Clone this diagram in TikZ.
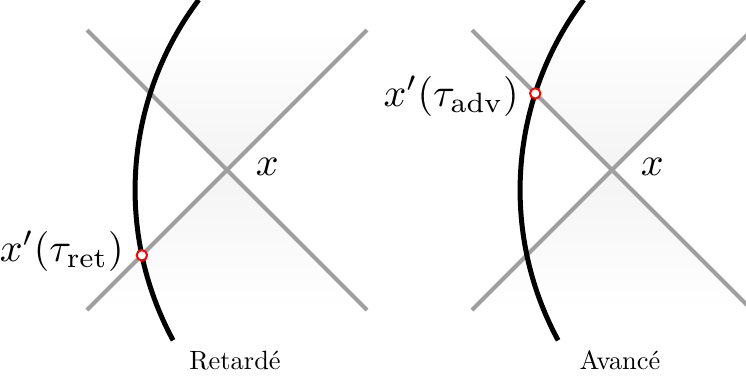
\documentclass[tikz,border=0pt]{standalone}
\usepackage{fontspec}
\newfontfamily\capfont{lmroman10-regular.otf}
\usetikzlibrary{positioning,intersections}

\begin{document}
\begin{tikzpicture}[
        x=0.25pt, y=0.25pt,
        line join=round,
        cone/.style={gray!75, line width=1pt},
        worldline/.style={black, line width=1.25pt},
        event/.style={circle, draw=red, fill=white, line width=0.5pt,
            inner sep=0pt, minimum size=2.6pt},
        evlabel/.style={inner sep=1pt},
        caption/.style={anchor=base, font=\capfont\fontsize{6.6}{8}\selectfont}
    ]

        \useasboundingbox (0,0) rectangle (746,380);

        % panneau gauche : retardé
        \coordinate (Xr) at (227,210);
        \coordinate (ULr) at (87,350);
        \coordinate (URr) at (367,350);
        \coordinate (LLr) at (87,70);
        \coordinate (LRr) at (367,70);

        % cônes de lumière
        \shade[top color=white, bottom color=gray!9]
            (Xr) -- (ULr) -- (URr) -- cycle;
        \shade[top color=gray!9, bottom color=white]
            (Xr) -- (LLr) -- (LRr) -- cycle;

        \draw[cone, name path=pastr] (LLr) -- (URr);
        \draw[cone] (ULr) -- (LRr);

        % ligne d'univers
        \draw[worldline, name path=wlr]
            (173.1,39.7) arc[start angle=208.4, end angle=143, radius=316];

        \path[name intersections={of=wlr and pastr, by=ir}];
        \node[event] (ret) at (ir) {};

        \node[evlabel, left=1.8pt of ret, yshift=1pt] (retlabel)
            {$x'(\tau_{\mathrm{ret}})$};
        \node[inner sep=0pt, right=7pt of Xr, yshift=0.75pt] (xr) {$x$};
        \node[caption] (retcap) at (235,11) {Retardé};

        % panneau droit : avancé
        \coordinate (Xa) at (612,210);
        \coordinate (ULa) at (472,350);
        \coordinate (URa) at (752,350);
        \coordinate (LLa) at (472,70);
        \coordinate (LRa) at (752,70);

        \shade[top color=white, bottom color=gray!9]
            (Xa) -- (ULa) -- (URa) -- cycle;
        \shade[top color=gray!9, bottom color=white]
            (Xa) -- (LLa) -- (LRa) -- cycle;

        \draw[cone] (LLa) -- (URa);
        \draw[cone, name path=futa] (ULa) -- (LRa);

        \draw[worldline, name path=wla]
            (558.1,39.7) arc[start angle=208.4, end angle=143, radius=316];

        \path[name intersections={of=wla and futa, by=ia}];
        \node[event] (adv) at (ia) {};

        \node[evlabel, left=1.4pt of adv, yshift=-0.75pt] (advlabel)
            {$x'(\tau_{\mathrm{adv}})$};
        \node[inner sep=0pt, right=7pt of Xa, yshift=0.75pt] (xa) {$x$};
        \node[caption] (advcap) at (620,11) {Avancé};

    \end{tikzpicture}
\end{document}
